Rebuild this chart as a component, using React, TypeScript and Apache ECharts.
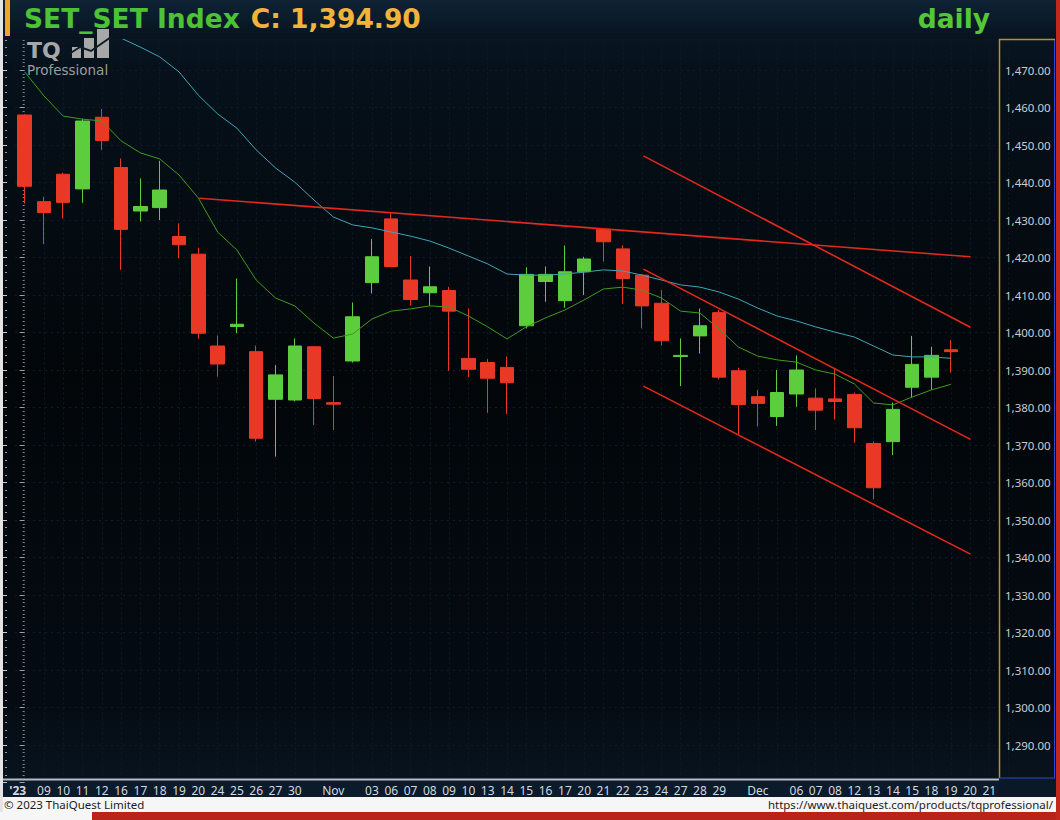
import React, { useEffect, useRef } from "react";
import * as echarts from "echarts";

// ---- data ----
const categories = [
  "2023-10-06","2023-10-09","2023-10-10","2023-10-11","2023-10-12","2023-10-16","2023-10-17","2023-10-18","2023-10-19","2023-10-20",
  "2023-10-24","2023-10-25","2023-10-26","2023-10-27","2023-10-30","2023-10-31","2023-11-01","2023-11-02","2023-11-03","2023-11-06",
  "2023-11-07","2023-11-08","2023-11-09","2023-11-10","2023-11-13","2023-11-14","2023-11-15","2023-11-16","2023-11-17","2023-11-20",
  "2023-11-21","2023-11-22","2023-11-23","2023-11-24","2023-11-27","2023-11-28","2023-11-29","2023-11-30","2023-12-01","2023-12-04",
  "2023-12-06","2023-12-07","2023-12-08","2023-12-12","2023-12-13","2023-12-14","2023-12-15","2023-12-18","2023-12-19","2023-12-20",
  "2023-12-21",
];
const tickLabels = [
  "'23","09","10","11","12","16","17","18","19","20",
  "24","25","26","27","30","","Nov","","03","06",
  "07","08","09","10","13","14","15","16","17","20",
  "21","22","23","24","27","28","29","","Dec","",
  "06","07","08","12","13","14","15","18","19","20",
  "21",
];
const opens = [
  1458.0,1434.9,1442.2,1438.3,1457.4,1444.0,1432.4,1433.3,1425.6,1420.9,
  1396.4,1401.6,1394.9,1382.2,1382.0,1396.2,1381.3,1392.4,1413.3,1430.3,
  1414.0,1410.6,1411.2,1393.1,1392.0,1390.7,1401.8,1413.6,1408.5,1416.2,
  1427.5,1422.3,1415.3,1407.8,1393.6,1399.1,1405.3,1389.8,1382.9,1377.6,
  1383.6,1382.5,1382.3,1383.5,1370.4,1370.9,1385.4,1388.1,1395.4,
];
const closes = [
  1439.0,1432.0,1434.7,1456.4,1451.2,1427.5,1433.6,1438.0,1423.4,1399.8,
  1391.6,1402.2,1371.8,1388.7,1396.4,1382.4,1380.9,1404.2,1420.2,1417.6,
  1408.8,1412.2,1405.7,1390.2,1387.8,1386.6,1415.5,1415.5,1416.2,1419.6,
  1424.2,1414.4,1407.1,1397.8,1393.9,1401.8,1388.1,1380.8,1381.1,1384.0,
  1390.0,1379.3,1381.6,1374.6,1358.6,1379.5,1391.5,1393.9,1394.9,
];
const highs = [
  1458.2,1436.2,1442.6,1457.0,1459.6,1446.4,1441.1,1445.8,1429.1,1422.6,
  1399.2,1414.4,1396.5,1391.3,1398.4,1396.4,1388.4,1408.0,1424.9,1431.8,
  1420.4,1417.6,1412.2,1406.4,1392.9,1393.6,1417.4,1417.6,1423.2,1420.2,
  1427.8,1423.3,1415.6,1411.3,1398.4,1406.4,1406.0,1390.6,1384.7,1390.0,
  1393.9,1385.1,1390.4,1384.0,1370.9,1381.3,1399.1,1396.2,1398.0,
];
const lows = [
  1434.4,1423.6,1430.4,1434.6,1448.7,1416.7,1429.6,1430.0,1419.8,1398.3,
  1388.2,1399.8,1370.9,1366.9,1381.6,1375.3,1374.0,1392.0,1410.4,1417.4,
  1407.2,1407.1,1389.8,1388.1,1378.6,1378.3,1401.1,1408.2,1406.6,1410.0,
  1418.9,1407.6,1401.1,1396.5,1385.7,1394.4,1387.5,1372.9,1374.9,1375.1,
  1380.2,1374.0,1376.8,1370.6,1355.5,1367.3,1382.6,1384.7,1389.3,
];
const maShort = [
  1469.5,1463.1,1457.7,1456.9,1456.4,1451.1,1447.9,1446.3,1442.0,1435.9,
  1426.8,1422.0,1414.0,1409.2,1407.1,1402.5,1398.5,1399.6,1403.6,1405.7,
  1406.3,1407.1,1406.8,1404.4,1401.5,1398.3,1401.5,1403.9,1406.0,1408.7,
  1411.6,1412.1,1411.3,1409.2,1405.7,1405.2,1400.9,1396.1,1393.7,1392.7,
  1392.1,1390.0,1388.9,1386.3,1381.2,1380.7,1382.8,1384.7,1386.16,
];
const maLong = [
  null,null,null,null,null,1478.5,1476.1,1473.5,1469.5,1463.3,
  1458.3,1454.5,1448.7,1443.9,1440.1,1435.3,1430.8,1428.7,1427.9,1426.8,
  1425.7,1424.4,1422.5,1420.4,1418.3,1415.6,1415.3,1415.3,1415.6,1416.1,
  1416.7,1416.4,1415.3,1414.0,1412.7,1412.1,1410.8,1408.9,1406.5,1404.4,
  1403.1,1401.5,1400.1,1398.8,1396.4,1394.0,1393.5,1393.5,1393.12,
];
// trend lines: [startIndex, startPrice, endIndex, endPrice]
const trendLines = [
  [9.05, 1435.8, 49.02, 1420.2],
  [32.07, 1447.1, 49.02, 1401.4],
  [32.07, 1416.9, 49.02, 1371.5],
  [32.07, 1385.7, 49.02, 1340.9],
];
const yTicks = { min: 1280, max: 1480, step: 10 };

const fmt = (v: number) =>
  v.toLocaleString("en-US", { minimumFractionDigits: 2, maximumFractionDigits: 2 });

export default function App() {
  const ref = useRef<HTMLDivElement>(null);
  useEffect(() => {
    if (!ref.current) return;
    const chart = echarts.init(ref.current, null, { renderer: "svg" });
    const n = categories.length;
    const candleData = categories.map((_, i) =>
      i < closes.length ? [opens[i], closes[i], lows[i], highs[i]] : "-"
    );
    const pad = (arr: (number | null)[]) =>
      categories.map((_, i) => (i < arr.length && arr[i] != null ? arr[i] : "-"));
    const lastClose = closes[closes.length - 1];
    const lastShort = maShort[maShort.length - 1];
    const lastLong = maLong[maLong.length - 1] as number;

    const gridLeft = 15;
    const gridWidth = 984;
    const slot = gridWidth / n;
    const gridTop = 32.5;
    const gridBottom = 37.5;

    const tag = (value: number, bg: string, fg: string) => ({
      yAxis: value,
      label: {
        show: true,
        position: "end",
        distance: 2,
        formatter: fmt(value),
        backgroundColor: bg,
        color: fg,
        fontSize: 11.5,
        fontFamily: "Noto Sans",
        padding: [0, 2, 0, 2],
      },
    });

    chart.setOption({
      animation: false,
      backgroundColor: {
        type: "linear", x: 0, y: 0, x2: 0, y2: 1,
        colorStops: [
          { offset: 0, color: "#0b1e2e" },
          { offset: 0.08, color: "#06111b" },
          { offset: 0.45, color: "#020609" },
          { offset: 0.85, color: "#040b12" },
          { offset: 1, color: "#0a1724" },
        ],
      },
      grid: [
        { left: gridLeft, width: gridWidth, top: gridTop, bottom: gridBottom, containLabel: false },
        { left: gridLeft + slot / 2, width: gridWidth, top: gridTop, bottom: gridBottom, containLabel: false },
      ],
      xAxis: [
        {
          type: "category",
          gridIndex: 0,
          data: categories,
          boundaryGap: true,
          axisLine: { show: false },
          axisTick: { show: false },
          splitLine: { show: false },
          axisLabel: {
            interval: 0,
            margin: 2,
            color: "#d2d8de",
            fontSize: 12,
            fontFamily: "Noto Sans",
            formatter: (_: string, i: number) =>
              i === 0 ? "{f|" + tickLabels[i] + "}" : tickLabels[i],
            rich: { f: { color: "#d2d8de", fontSize: 12, fontFamily: "Noto Sans", fontWeight: "bold", padding: [0, 14, 0, 0] } },
          },
        },
        { type: "value", gridIndex: 0, min: -0.5, max: n - 0.5, show: false },
        {
          type: "value",
          gridIndex: 1,
          min: 0,
          max: n,
          interval: 1,
          axisLine: { show: false },
          axisTick: { show: false },
          axisLabel: { show: false },
          splitLine: { show: true, lineStyle: { color: "#0c1a26", width: 1, type: [2, 3] } },
        },
      ],
      yAxis: [
        {
          type: "value",
          gridIndex: 0,
          position: "right",
          min: yTicks.min,
          max: yTicks.max,
          interval: yTicks.step,
          axisLine: { show: false },
          axisTick: { show: true, inside: true, length: 5, lineStyle: { color: "#9aa0a6" } },
          minorTick: { show: true, splitNumber: 10, length: 2, lineStyle: { color: "#80868c" } },
          splitLine: { show: true, lineStyle: { color: "#0d1c28", type: [2, 4] } },
          axisLabel: {
            margin: 6,
            color: "#c9cdd2",
            fontSize: 11.5,
            fontFamily: "Noto Sans",
            formatter: (v: number) => (v === yTicks.min || v === yTicks.max ? "" : fmt(v)),
          },
        },
        {
          type: "value",
          gridIndex: 0,
          position: "left",
          offset: 8,
          min: yTicks.min,
          max: yTicks.max,
          interval: yTicks.step,
          axisLine: { show: false },
          axisTick: { show: true, length: 4, lineStyle: { color: "#c8ccd0" } },
          minorTick: { show: true, splitNumber: 5, length: 2, lineStyle: { color: "#9aa0a6" } },
          splitLine: { show: false },
          axisLabel: { show: false },
        },
        { type: "value", gridIndex: 1, min: yTicks.min, max: yTicks.max, show: false },
      ],
      series: [
        {
          type: "candlestick",
          xAxisIndex: 0,
          yAxisIndex: 0,
          data: candleData,
          barWidth: 14,
          itemStyle: {
            color: "#5ccd3c",
            color0: "#e93826",
            borderColor: "#5ccd3c",
            borderColor0: "#e93826",
            borderWidth: 1,
          },
          markLine: {
            silent: true,
            symbol: "none",
            lineStyle: { opacity: 0 },
            data: [tag(lastClose, "#f0a830", "#3a2a00")],
          },
          z: 3,
        },
        {
          type: "line",
          xAxisIndex: 0,
          yAxisIndex: 0,
          data: pad(maShort),
          showSymbol: false,
          lineStyle: { color: "#3f9b1f", width: 1 },
          markLine: {
            silent: true,
            symbol: "none",
            lineStyle: { opacity: 0 },
            data: [tag(lastShort, "#66e622", "#10300a")],
          },
          z: 4,
        },
        {
          type: "line",
          xAxisIndex: 0,
          yAxisIndex: 0,
          data: pad(maLong),
          showSymbol: false,
          lineStyle: { color: "#3ea6b6", width: 1 },
          markLine: {
            silent: true,
            symbol: "none",
            lineStyle: { opacity: 0 },
            data: [tag(lastLong, "#7ff6fa", "#0a3a66")],
          },
          z: 5,
        },
        ...trendLines.map((t) => ({
          type: "line",
          xAxisIndex: 1,
          yAxisIndex: 0,
          data: [[t[0], t[1]], [t[2], t[3]]],
          showSymbol: false,
          lineStyle: { color: "#e2291c", width: 1.6 },
          z: 6,
        })),
      ],
      graphic: [
        // header
        {
          type: "rect", z: 50, shape: { x: 0, y: 0, width: 1056, height: 39 },
          style: {
            fill: {
              type: "linear", x: 0, y: 0, x2: 0, y2: 1,
              colorStops: [{ offset: 0, color: "#0e2335" }, { offset: 1, color: "#07131e" }],
            },
          },
        },
        { type: "rect", z: 51, shape: { x: 5, y: 0, width: 5, height: 36 }, style: { fill: "#f2a22e" } },
        {
          type: "text", z: 52, x: 24, y: 5,
          style: {
            text: "{a|SET_SET Index}{b|C: " + fmt(lastClose) + "}",
            rich: {
              a: { fill: "#4cc234", fontSize: 26.5, fontWeight: "bold", fontFamily: "DejaVu Sans" },
              b: { fill: "#f2b33a", fontSize: 26.5, fontWeight: "bold", fontFamily: "DejaVu Sans", padding: [0, 0, 0, 11] },
            },
          },
        },
        {
          type: "text", z: 52, x: 990, y: 5,
          style: { text: "daily", fill: "#55c637", fontSize: 26.5, fontWeight: "bold", fontFamily: "DejaVu Sans", align: "right" },
        },
        // logo
        {
          type: "text", z: 52, x: 27, y: 39,
          style: { text: "TQ", fill: "#a8a8a8", fontSize: 22, lineHeight: 22, fontWeight: "bold", fontFamily: "DejaVu Sans" },
        },
        { type: "rect", z: 52, shape: { x: 72, y: 47, width: 9, height: 11 }, style: { fill: "#a8a8a8" } },
        { type: "rect", z: 52, shape: { x: 84, y: 38, width: 10, height: 20 }, style: { fill: "#a8a8a8" } },
        { type: "rect", z: 52, shape: { x: 97, y: 29, width: 12, height: 29 }, style: { fill: "#a8a8a8" } },
        {
          type: "polyline", z: 53, shape: { points: [[69, 54], [80, 47], [91, 51], [111, 37]] },
          style: { stroke: "#0f1c27", lineWidth: 2, fill: null },
        },
        {
          type: "text", z: 52, x: 27, y: 63,
          style: { text: "Professional", fill: "#9c9c9c", fontSize: 13.5, lineHeight: 14, fontFamily: "DejaVu Sans" },
        },
        // left edge
        { type: "rect", z: 53, shape: { x: 0, y: 0, width: 3, height: 812 }, style: { fill: "#e4e4e4" } },
        // right axis frame
        { type: "line", z: 20, shape: { x1: 999.5, y1: 39, x2: 999.5, y2: 778 }, style: { stroke: "#b8922c", lineWidth: 1.5 } },
        { type: "line", z: 51, shape: { x1: 999, y1: 39.5, x2: 1055, y2: 39.5 }, style: { stroke: "#b8922c", lineWidth: 1.5 } },
        { type: "line", z: 20, shape: { x1: 1054.5, y1: 39, x2: 1054.5, y2: 778 }, style: { stroke: "#2c48d4", lineWidth: 1 } },
        // x band
        { type: "rect", z: -5, shape: { x: 3, y: 779, width: 996, height: 18 }, style: { fill: "#0b1b2c" } },
        { type: "rect", z: 50, shape: { x: 999, y: 778, width: 57, height: 19 }, style: { fill: "#0a1828" } },
        { type: "line", z: 51, shape: { x1: 999, y1: 778, x2: 1055, y2: 778 }, style: { stroke: "#2c48d4", lineWidth: 1 } },
        { type: "rect", z: 50, shape: { x: 3, y: 778.5, width: 996, height: 2 }, style: { fill: "#b5bcc2" } },
        // footer
        { type: "rect", z: 50, shape: { x: 0, y: 797, width: 1056, height: 23 }, style: { fill: "#f6f6f6" } },
        { type: "rect", z: 51, shape: { x: 92, y: 812, width: 968, height: 8 }, style: { fill: "#b8241a" } },
        { type: "rect", z: 51, shape: { x: 1056, y: 0, width: 4, height: 820 }, style: { fill: "#c2281c" } },
        {
          type: "text", z: 52, x: 4, y: 804.5,
          style: { text: "© 2023 ThaiQuest Limited", fill: "#1c1c1c", fontSize: 11.5, fontFamily: "Noto Sans", verticalAlign: "middle" },
        },
        {
          type: "text", z: 52, x: 1053, y: 804.5,
          style: {
            text: "https://www.thaiquest.com/products/tqprofessional/",
            fill: "#1c1c1c", fontSize: 11.5, fontFamily: "Noto Sans", align: "right", verticalAlign: "middle",
          },
        },
      ],
    });
    return () => chart.dispose();
  }, []);
  return (
    <div
      ref={ref}
      style={{ position: "fixed", left: 0, top: 0, width: 1060, height: 820 }}
    />
  );
}
